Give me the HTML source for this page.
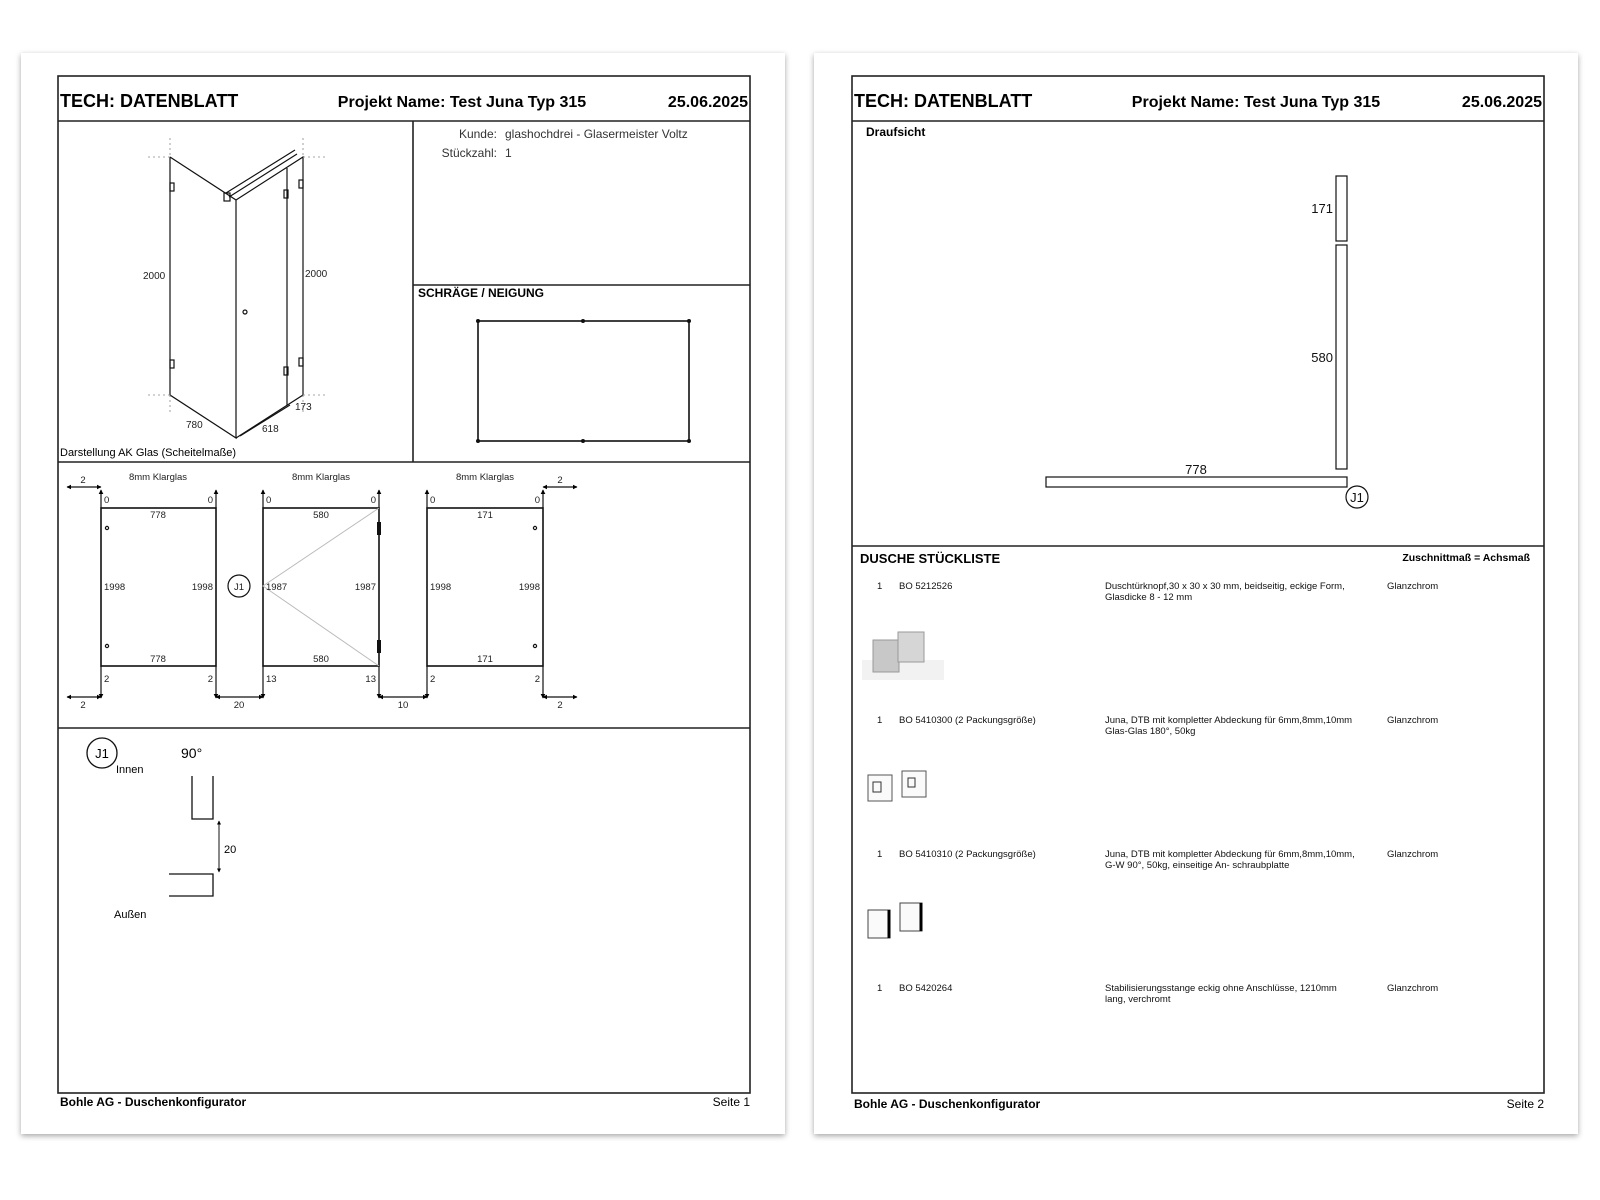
<!DOCTYPE html>
<html><head><meta charset="utf-8"><style>
html,body{margin:0;padding:0;background:#fff;}
svg{display:block;font-family:"Liberation Sans",Arial,sans-serif;}
</style></head><body>
<svg width="1600" height="1200" viewBox="0 0 1600 1200" xmlns="http://www.w3.org/2000/svg">
<defs>
<filter id="sh" x="-5%" y="-5%" width="110%" height="110%"><feDropShadow dx="0" dy="2" stdDeviation="3" flood-color="#000" flood-opacity="0.35"/></filter>
<marker id="ar" markerWidth="4" markerHeight="4" refX="3.5" refY="2" orient="auto-start-reverse"><path d="M0,0 L4,2 L0,4 z" fill="#000"/></marker>
</defs>
<rect x="21" y="53" width="764" height="1081" fill="#fff" filter="url(#sh)"/>
<rect x="814" y="53" width="764" height="1081" fill="#fff" filter="url(#sh)"/>

<!-- PAGE 1 -->
<g stroke="#222" stroke-width="1.6" fill="none">
<rect x="58" y="76" width="692" height="1017"/>
<line x1="58" y1="121" x2="750" y2="121"/>
<line x1="413" y1="121" x2="413" y2="462"/>
<line x1="413" y1="285" x2="750" y2="285"/>
<line x1="58" y1="462" x2="750" y2="462"/>
<line x1="58" y1="728" x2="750" y2="728"/>
</g>
<text x="60" y="107" font-size="18" font-weight="bold">TECH: DATENBLATT</text>
<text x="462" y="107" font-size="16" font-weight="bold" text-anchor="middle">Projekt Name: Test Juna Typ 315</text>
<text x="748" y="107" font-size="16" font-weight="bold" text-anchor="end">25.06.2025</text>

<!-- iso -->
<g stroke="#111" stroke-width="1.2" fill="none">
<polyline points="170,157 170,395 236,438 236,200 170,157"/>
<polyline points="236,200 303,157 303,395 236,438"/>
<line x1="287" y1="168" x2="287" y2="405"/>
<line x1="240" y1="436" x2="290" y2="405"/>
<line x1="226" y1="193" x2="295" y2="150"/>
<line x1="229" y1="197" x2="297" y2="154"/>
<circle cx="245" cy="312" r="2"/>
<rect x="170" y="183" width="4" height="8"/><rect x="170" y="360" width="4" height="8"/>
<rect x="284" y="190" width="4" height="8"/><rect x="299" y="180" width="4" height="8"/>
<rect x="284" y="367" width="4" height="8"/><rect x="299" y="358" width="4" height="8"/>
<rect x="224" y="193" width="6" height="8"/>
</g>
<g stroke="#888" stroke-width="0.8" stroke-dasharray="2,3">
<line x1="148" y1="157" x2="170" y2="157"/><line x1="170" y1="138" x2="170" y2="157"/>
<line x1="148" y1="395" x2="170" y2="395"/><line x1="170" y1="395" x2="170" y2="415"/>
<line x1="303" y1="157" x2="325" y2="157"/><line x1="303" y1="138" x2="303" y2="157"/>
<line x1="303" y1="395" x2="325" y2="395"/><line x1="303" y1="395" x2="303" y2="415"/>
</g>
<g font-size="10" fill="#222">
<text x="143" y="279">2000</text><text x="305" y="277">2000</text>
<text x="186" y="428">780</text><text x="262" y="432">618</text><text x="295" y="410">173</text>
</g>
<text x="60" y="456" font-size="11">Darstellung AK Glas (Scheitelmaße)</text>
<text x="497" y="138" font-size="12" fill="#333" text-anchor="end">Kunde:</text>
<text x="505" y="138" font-size="12" fill="#333">glashochdrei - Glasermeister Voltz</text>
<text x="497" y="157" font-size="12" fill="#333" text-anchor="end">Stückzahl:</text>
<text x="505" y="157" font-size="12" fill="#333">1</text>
<text x="418" y="297" font-size="12" font-weight="bold">SCHRÄGE / NEIGUNG</text>
<rect x="478" y="321" width="211" height="120" fill="none" stroke="#111" stroke-width="1.6"/>
<g fill="#111"><circle cx="478" cy="321" r="2"/><circle cx="583" cy="321" r="2"/><circle cx="689" cy="321" r="2"/><circle cx="478" cy="441" r="2"/><circle cx="583" cy="441" r="2"/><circle cx="689" cy="441" r="2"/></g>

<!-- panels -->
<g stroke="#111" stroke-width="1.6" fill="none">
<rect x="101" y="508" width="115" height="158"/>
<rect x="263" y="508" width="116" height="158"/>
<rect x="427" y="508" width="116" height="158"/>
</g>
<g stroke="#bbb" stroke-width="1"><polyline points="379,508 263,586 379,666" fill="none"/></g>
<g fill="#111"><rect x="377" y="522" width="4" height="13"/><rect x="377" y="640" width="4" height="13"/></g>
<g stroke="#111" stroke-width="1.2" fill="none">
<circle cx="107" cy="528" r="1.6"/><circle cx="107" cy="646" r="1.6"/>
<circle cx="535" cy="528" r="1.6"/><circle cx="535" cy="646" r="1.6"/>
<circle cx="239" cy="586" r="11"/>
<line x1="101" y1="490" x2="101" y2="508" marker-start="url(#ar)"/>
<line x1="216" y1="490" x2="216" y2="508" marker-start="url(#ar)"/>
<line x1="263" y1="490" x2="263" y2="508" marker-start="url(#ar)"/>
<line x1="379" y1="490" x2="379" y2="508" marker-start="url(#ar)"/>
<line x1="427" y1="490" x2="427" y2="508" marker-start="url(#ar)"/>
<line x1="543" y1="490" x2="543" y2="508" marker-start="url(#ar)"/>
<line x1="101" y1="666" x2="101" y2="698" marker-end="url(#ar)"/>
<line x1="216" y1="666" x2="216" y2="698" marker-end="url(#ar)"/>
<line x1="263" y1="666" x2="263" y2="698" marker-end="url(#ar)"/>
<line x1="379" y1="666" x2="379" y2="698" marker-end="url(#ar)"/>
<line x1="427" y1="666" x2="427" y2="698" marker-end="url(#ar)"/>
<line x1="543" y1="666" x2="543" y2="698" marker-end="url(#ar)"/>
<line x1="67" y1="487" x2="101" y2="487" marker-start="url(#ar)" marker-end="url(#ar)"/>
<line x1="543" y1="487" x2="577" y2="487" marker-start="url(#ar)" marker-end="url(#ar)"/>
<line x1="67" y1="697" x2="101" y2="697" marker-start="url(#ar)" marker-end="url(#ar)"/>
<line x1="216" y1="697" x2="263" y2="697" marker-start="url(#ar)" marker-end="url(#ar)"/>
<line x1="379" y1="697" x2="427" y2="697" marker-start="url(#ar)" marker-end="url(#ar)"/>
<line x1="543" y1="697" x2="577" y2="697" marker-start="url(#ar)" marker-end="url(#ar)"/>
</g>
<g font-size="9.5" fill="#222">
<text x="158" y="480" text-anchor="middle">8mm Klarglas</text>
<text x="321" y="480" text-anchor="middle">8mm Klarglas</text>
<text x="485" y="480" text-anchor="middle">8mm Klarglas</text>
<text x="83" y="483" text-anchor="middle">2</text><text x="560" y="483" text-anchor="middle">2</text>
<text x="104" y="503">0</text><text x="213" y="503" text-anchor="end">0</text>
<text x="266" y="503">0</text><text x="376" y="503" text-anchor="end">0</text>
<text x="430" y="503">0</text><text x="540" y="503" text-anchor="end">0</text>
<text x="158" y="518" text-anchor="middle">778</text><text x="321" y="518" text-anchor="middle">580</text><text x="485" y="518" text-anchor="middle">171</text>
<text x="158" y="662" text-anchor="middle">778</text><text x="321" y="662" text-anchor="middle">580</text><text x="485" y="662" text-anchor="middle">171</text>
<text x="104" y="590">1998</text><text x="213" y="590" text-anchor="end">1998</text>
<text x="266" y="590">1987</text><text x="376" y="590" text-anchor="end">1987</text>
<text x="430" y="590">1998</text><text x="540" y="590" text-anchor="end">1998</text>
<text x="239" y="590" text-anchor="middle">J1</text>
<text x="104" y="682">2</text><text x="213" y="682" text-anchor="end">2</text>
<text x="266" y="682">13</text><text x="376" y="682" text-anchor="end">13</text>
<text x="430" y="682">2</text><text x="540" y="682" text-anchor="end">2</text>
<text x="83" y="708" text-anchor="middle">2</text><text x="239" y="708" text-anchor="middle">20</text>
<text x="403" y="708" text-anchor="middle">10</text><text x="560" y="708" text-anchor="middle">2</text>
</g>

<!-- J1 detail -->
<g stroke="#111" stroke-width="1.3" fill="none">
<circle cx="102" cy="753" r="15"/>
<polyline points="192,776 192,819 213,819 213,776"/>
<polyline points="169,874 213,874 213,896 169,896"/>
<line x1="219" y1="821" x2="219" y2="872" stroke-width="1" marker-start="url(#ar)" marker-end="url(#ar)"/>
</g>
<text x="102" y="758" font-size="13" text-anchor="middle">J1</text>
<text x="116" y="773" font-size="11">Innen</text>
<text x="181" y="758" font-size="14">90°</text>
<text x="224" y="853" font-size="11">20</text>
<text x="114" y="918" font-size="11">Außen</text>
<text x="60" y="1106" font-size="12" font-weight="bold">Bohle AG - Duschenkonfigurator</text>
<text x="750" y="1106" font-size="12" text-anchor="end">Seite 1</text>

<!-- PAGE 2 -->
<g stroke="#222" stroke-width="1.6" fill="none">
<rect x="852" y="76" width="692" height="1017"/>
<line x1="852" y1="121" x2="1544" y2="121"/>
<line x1="852" y1="546" x2="1544" y2="546"/>
</g>
<text x="854" y="107" font-size="18" font-weight="bold">TECH: DATENBLATT</text>
<text x="1256" y="107" font-size="16" font-weight="bold" text-anchor="middle">Projekt Name: Test Juna Typ 315</text>
<text x="1542" y="107" font-size="16" font-weight="bold" text-anchor="end">25.06.2025</text>
<text x="866" y="136" font-size="12" font-weight="bold">Draufsicht</text>
<g stroke="#111" stroke-width="1.2" fill="none">
<rect x="1336" y="176" width="11" height="65"/>
<rect x="1336" y="245" width="11" height="224"/>
<rect x="1046" y="477" width="301" height="10"/>
<circle cx="1357" cy="497" r="11"/>
</g>
<g font-size="13" fill="#111">
<text x="1333" y="213" text-anchor="end">171</text>
<text x="1333" y="362" text-anchor="end">580</text>
<text x="1196" y="474" text-anchor="middle">778</text>
<text x="1357" y="502" text-anchor="middle">J1</text>
</g>
<text x="860" y="563" font-size="13" font-weight="bold">DUSCHE STÜCKLISTE</text>
<text x="1530" y="561" font-size="10.5" font-weight="bold" text-anchor="end">Zuschnittmaß = Achsmaß</text>
<g font-size="9.5" fill="#111">
<text x="877" y="589">1</text><text x="899" y="589">BO 5212526</text>
<text x="1105" y="589">Duschtürknopf,30 x 30 x 30 mm, beidseitig, eckige Form,</text><text x="1105" y="600">Glasdicke 8 - 12 mm</text>
<text x="1387" y="589">Glanzchrom</text>
<text x="877" y="723">1</text><text x="899" y="723">BO 5410300 (2 Packungsgröße)</text>
<text x="1105" y="723">Juna, DTB mit kompletter Abdeckung für 6mm,8mm,10mm</text><text x="1105" y="734">Glas-Glas 180°, 50kg</text>
<text x="1387" y="723">Glanzchrom</text>
<text x="877" y="857">1</text><text x="899" y="857">BO 5410310 (2 Packungsgröße)</text>
<text x="1105" y="857">Juna, DTB mit kompletter Abdeckung für 6mm,8mm,10mm,</text><text x="1105" y="868">G-W 90°, 50kg, einseitige An- schraubplatte</text>
<text x="1387" y="857">Glanzchrom</text>
<text x="877" y="991">1</text><text x="899" y="991">BO 5420264</text>
<text x="1105" y="991">Stabilisierungsstange eckig ohne Anschlüsse, 1210mm</text><text x="1105" y="1002">lang, verchromt</text>
<text x="1387" y="991">Glanzchrom</text>
</g>
<rect x="862" y="660" width="82" height="20" fill="#f2f2f2"/>
<rect x="873" y="640" width="26" height="32" fill="#c8c8c8" stroke="#999"/>
<rect x="898" y="632" width="26" height="30" fill="#d6d6d6" stroke="#999"/>
<rect x="868" y="775" width="24" height="26" fill="#fafafa" stroke="#555"/>
<rect x="902" y="771" width="24" height="26" fill="#fafafa" stroke="#555"/>
<rect x="873" y="782" width="8" height="10" fill="none" stroke="#333"/>
<rect x="908" y="778" width="7" height="9" fill="none" stroke="#333"/>
<rect x="868" y="910" width="22" height="28" fill="#fafafa" stroke="#444"/>
<rect x="900" y="903" width="22" height="28" fill="#fafafa" stroke="#444"/>
<line x1="889" y1="910" x2="889" y2="938" stroke="#000" stroke-width="3"/>
<line x1="921" y1="903" x2="921" y2="931" stroke="#000" stroke-width="3"/>
<text x="854" y="1108" font-size="12" font-weight="bold">Bohle AG - Duschenkonfigurator</text>
<text x="1544" y="1108" font-size="12" text-anchor="end">Seite 2</text>
</svg>
</body></html>
